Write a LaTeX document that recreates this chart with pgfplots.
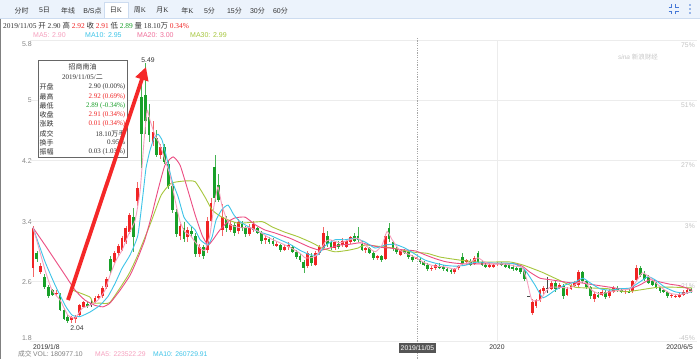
\documentclass[border=0pt]{standalone}
\usepackage{pgfplots}
\pgfplotsset{compat=1.18}
\usepackage{pgfplotstable}
\usepackage{fontspec}
\setmainfont{Liberation Sans}
\newfontfamily\cjk{Noto Sans CJK SC}
\newfontfamily\sun{Liberation Serif}
\usetikzlibrary{arrows.meta}
\definecolor{upc}{RGB}{240,36,36}
\definecolor{dnc}{RGB}{24,160,40}
\definecolor{flc}{RGB}{70,70,70}
\definecolor{ma5}{RGB}{246,160,190}
\definecolor{ma10}{RGB}{62,196,232}
\definecolor{ma20}{RGB}{236,76,130}
\definecolor{ma30}{RGB}{166,198,60}
\definecolor{tabbg}{RGB}{236,243,252}
\definecolor{tabline}{RGB}{205,220,240}
\definecolor{tickc}{RGB}{135,135,135}
\definecolor{pctc}{RGB}{195,195,195}
\definecolor{gridc}{RGB}{236,236,236}
\definecolor{txt}{RGB}{50,50,50}
\definecolor{arrowc}{RGB}{245,40,40}
\definecolor{iconc}{RGB}{70,120,215}
\definecolor{hlbox}{RGB}{85,85,85}
\newcommand\fs[1]{\fontsize{#1bp}{#1bp}\selectfont}

\pgfplotstableread{
k o h l c
0 2.78 3.33 2.66 3.30
2 2.72 2.84 2.70 2.80
6 2.44 2.48 2.41 2.45
10 2.08 2.14 2.04 2.12
11 2.10 2.15 2.04 2.13
12 2.15 2.30 2.13 2.28
13 2.26 2.34 2.24 2.32
16 2.32 2.40 2.31 2.38
17 2.38 2.43 2.35 2.40
18 2.40 2.53 2.38 2.51
19 2.52 2.66 2.50 2.63
21 2.86 3.00 2.84 2.98
22 2.97 3.10 2.94 3.07
23 3.02 3.20 3.00 3.17
24 3.12 3.33 3.10 3.30
25 3.25 3.50 3.22 3.48
27 3.66 3.92 3.60 3.84
31 4.45 4.72 4.40 4.58
33 4.28 4.42 4.22 4.38
38 3.20 3.36 3.15 3.33
40 3.18 3.32 3.12 3.28
43 2.96 3.10 2.92 3.05
45 3.02 3.45 2.98 3.40
46 3.40 3.70 3.38 3.64
49 3.28 3.62 3.20 3.45
51 3.28 3.40 3.25 3.36
53 3.26 3.42 3.22 3.38
56 3.22 3.36 3.20 3.32
57 3.28 3.40 3.25 3.36
60 3.15 3.20 3.10 3.17
63 3.07 3.14 3.05 3.10
65 3.02 3.08 3.00 3.05
66 3.05 3.12 3.02 3.08
71 2.80 3.00 2.78 2.97
73 2.82 3.00 2.80 2.97
74 2.98 3.08 2.95 3.05
75 3.04 3.32 3.02 3.24
78 3.04 3.14 3.01 3.12
80 3.08 3.17 3.05 3.14
81 3.06 3.16 3.04 3.14
82 3.12 3.20 3.10 3.18
86 3.02 3.06 2.98 3.04
89 2.91 2.95 2.88 2.93
91 2.90 3.22 2.88 3.20
95 2.95 3.03 2.93 3.01
99 2.90 2.92 2.89 2.91
103 2.76 2.80 2.73 2.78
104 2.77 2.83 2.75 2.81
109 2.72 2.78 2.70 2.76
110 2.77 2.82 2.75 2.80
112 2.85 2.90 2.82 2.88
114 2.83 2.93 2.81 2.91
118 2.79 2.84 2.77 2.82
119 2.79 2.84 2.77 2.82
120 2.83 2.86 2.80 2.84
129 2.18 2.36 2.15 2.33
130 2.27 2.37 2.24 2.35
131 2.35 2.50 2.33 2.48
132 2.47 2.54 2.43 2.51
134 2.49 2.60 2.48 2.57
136 2.51 2.58 2.49 2.55
138 2.42 2.52 2.40 2.50
139 2.50 2.56 2.48 2.54
140 2.54 2.60 2.52 2.58
141 2.55 2.75 2.52 2.72
145 2.37 2.46 2.33 2.43
147 2.42 2.48 2.40 2.46
149 2.40 2.49 2.38 2.47
150 2.46 2.53 2.44 2.51
153 2.46 2.49 2.43 2.47
155 2.47 2.62 2.45 2.60
156 2.62 2.82 2.60 2.78
165 2.41 2.44 2.38 2.42
166 2.40 2.43 2.38 2.41
167 2.40 2.44 2.38 2.42
168 2.42 2.48 2.40 2.46
169 2.44 2.50 2.43 2.48
}\upT

\pgfplotstableread{
k o h l c
1 2.97 3.00 2.85 2.90
3 2.66 2.70 2.50 2.52
4 2.52 2.55 2.38 2.40
5 2.48 2.50 2.40 2.42
7 2.42 2.45 2.20 2.22
8 2.22 2.25 2.08 2.10
9 2.12 2.16 2.05 2.07
14 2.30 2.33 2.24 2.27
20 2.90 2.94 2.70 2.73
26 3.45 3.57 2.99 3.18
28 5.05 5.20 4.10 4.55
29 5.07 5.49 4.55 4.72
30 4.78 4.95 4.45 4.54
32 4.50 4.60 4.25 4.28
34 4.38 4.42 4.15 4.18
35 4.15 4.20 3.82 3.86
36 3.86 3.90 3.50 3.54
37 3.52 3.56 3.18 3.22
39 3.30 3.38 3.12 3.16
41 3.27 3.32 3.18 3.22
42 3.20 3.24 2.92 2.96
44 3.05 3.08 2.90 2.94
47 4.12 4.27 3.65 3.70
48 3.88 4.02 3.65 3.68
50 3.42 3.46 3.25 3.30
52 3.34 3.38 3.20 3.24
54 3.36 3.40 3.26 3.30
55 3.30 3.33 3.18 3.22
58 3.30 3.32 3.22 3.24
59 3.24 3.26 3.10 3.13
61 3.16 3.19 3.10 3.12
62 3.13 3.17 3.07 3.10
64 3.08 3.10 2.99 3.01
67 3.06 3.08 2.97 2.99
68 2.99 3.02 2.90 2.92
69 2.93 2.96 2.86 2.88
70 2.86 2.88 2.71 2.77
72 2.94 2.98 2.80 2.84
76 3.20 3.26 3.06 3.10
77 3.12 3.15 3.02 3.05
79 3.10 3.14 3.03 3.06
83 3.20 3.24 3.12 3.14
84 3.20 3.32 3.12 3.15
85 3.10 3.13 3.00 3.02
87 3.04 3.06 2.96 2.98
88 2.98 3.00 2.88 2.91
90 2.93 2.95 2.86 2.88
92 3.30 3.37 3.12 3.16
93 3.12 3.14 3.00 3.03
94 3.03 3.06 2.96 2.99
96 3.00 3.03 2.96 2.98
97 2.99 3.01 2.90 2.92
98 2.92 2.95 2.86 2.88
100 2.90 2.91 2.83 2.85
101 2.85 2.87 2.80 2.82
102 2.82 2.84 2.74 2.76
105 2.80 2.84 2.76 2.78
106 2.79 2.82 2.74 2.76
107 2.76 2.79 2.72 2.74
108 2.75 2.77 2.70 2.72
111 2.92 2.98 2.80 2.83
113 2.87 2.89 2.80 2.82
115 2.97 3.00 2.84 2.86
116 2.86 2.88 2.80 2.82
117 2.82 2.84 2.77 2.79
121 2.84 2.86 2.80 2.82
122 2.82 2.84 2.77 2.79
123 2.82 2.83 2.76 2.78
124 2.79 2.81 2.74 2.76
125 2.77 2.80 2.73 2.75
126 2.77 2.78 2.70 2.72
127 2.74 2.76 2.60 2.63
135 2.57 2.60 2.46 2.49
137 2.53 2.56 2.37 2.40
142 2.72 2.74 2.58 2.60
143 2.60 2.62 2.50 2.52
144 2.52 2.54 2.37 2.40
146 2.42 2.46 2.38 2.40
148 2.46 2.48 2.36 2.39
151 2.51 2.53 2.46 2.48
152 2.48 2.50 2.44 2.46
154 2.47 2.50 2.44 2.45
157 2.78 2.80 2.66 2.68
158 2.70 2.73 2.60 2.63
159 2.66 2.68 2.56 2.58
160 2.60 2.62 2.53 2.55
161 2.57 2.59 2.50 2.52
162 2.52 2.54 2.45 2.47
163 2.48 2.50 2.44 2.46
164 2.46 2.47 2.38 2.40
170 2.49 2.51 2.45 2.47
}\dnT

\pgfplotstableread{
k o h l c
15 2.295 2.35 2.26 2.305
128 2.395 2.41 2.39 2.405
133 2.505 2.66 2.44 2.515
}\flT

\pgfplotsset{
  wick/.style={draw=none, no markers, forget plot,
    error bars/.cd, y dir=both, y explicit, error mark=none,
    error bar style={draw=#1, line width=0.7bp}},
  body/.style={draw=none, no markers, forget plot,
    error bars/.cd, y dir=both, y explicit, error mark=none,
    error bar style={draw=#1, line width=2.8bp}},
}

\begin{document}
\begin{tikzpicture}
\path[use as bounding box] (0,0) rectangle (700bp,-359bp);
\begin{scope}[x=1bp,y=-1bp]
\fill[white] (0,0) rectangle (700,359);
\fill[tabbg] (0,0) rectangle (700,18);
\draw[tabline, line width=0.6bp] (0,18) -- (700,18);
\fill[white] (104,2.5) rectangle (128,18.4);
\draw[tabline, line width=0.6bp] (104,18) -- (104,2.5) -- (128,2.5) -- (128,18);
\begin{scope}[every node/.style={inner sep=0, text=txt}]
\node at (21.5,10.5) {\cjk\fs{7}分时};
\node at (44.5,10.5) {\fs{7}5{\cjk 日}};
\node at (68,10.5) {\cjk\fs{7}年线};
\node at (92.5,10.5) {\fs{7}B/S{\cjk 点}};
\node at (116,10.5) {\fs{7}{\cjk 日}{\sun K}};
\node at (140,10.5) {\fs{7}{\cjk 周}{\sun K}};
\node at (162.5,10.5) {\fs{7}{\cjk 月}{\sun K}};
\node at (187.5,10.5) {\fs{7}{\cjk 年}{\sun K}};
\node at (209.5,10.5) {\fs{7}5{\cjk 分}};
\node at (234.5,10.5) {\fs{7}15{\cjk 分}};
\node at (257.5,10.5) {\fs{7}30{\cjk 分}};
\node at (280.5,10.5) {\fs{7}60{\cjk 分}};
\end{scope}
% right icons
\begin{scope}[draw=iconc, line width=0.9bp]
\draw (668.5,7) -- (671.5,7) -- (671.5,4);
\draw (675.5,4) -- (675.5,7) -- (678.5,7);
\draw (668.5,11) -- (671.5,11) -- (671.5,14);
\draw (675.5,14) -- (675.5,11) -- (678.5,11);
\end{scope}
\fill[iconc] (690,5) circle (0.9) (690,9) circle (0.9) (690,13) circle (0.9);
% info line
\node[anchor=west, inner sep=0, text=txt] at (3,26) {\fs{7.4}\sun 2019/11/05 {\cjk 开} 2.90 {\cjk 高} \textcolor{upc}{2.92} {\cjk 收} \textcolor{upc}{2.91} {\cjk 低} \textcolor{dnc}{2.89} {\cjk 量} 18.10{\cjk 万} \textcolor{upc}{0.34\%}};
% MA legend
\node[anchor=west, inner sep=0, text=ma5] at (33,35) {\fs{7}MA5: 2.90};
\node[anchor=west, inner sep=0, text=ma10] at (85,35) {\fs{7}MA10: 2.95};
\node[anchor=west, inner sep=0, text=ma20!80] at (137,35) {\fs{7}MA20: 3.00};
\node[anchor=west, inner sep=0, text=ma30] at (190,35) {\fs{7}MA30: 2.99};
% y labels
\begin{scope}[every node/.style={inner sep=0, anchor=east, text=tickc}]
\node at (32,44.5) {\fs{7}5.8};
\node at (32,100) {\fs{7}5};
\node at (32,161) {\fs{7}4.2};
\node at (32,222) {\fs{7}3.4};
\node at (32,282) {\fs{7}2.6};
\node at (32,338) {\fs{7}1.8};
\end{scope}
\begin{scope}[every node/.style={inner sep=0, anchor=east, text=pctc}]
\node at (695,45) {\fs{6.8}75\%};
\node at (695,105) {\fs{6.8}51\%};
\node at (695,165) {\fs{6.8}27\%};
\node at (695,226) {\fs{6.8}3\%};
\node at (695,286) {\fs{6.8}-21\%};
\node at (695,338) {\fs{6.8}-45\%};
\end{scope}
\node[inner sep=0, text=gray!45] at (638,57) {\fs{6.5}\itshape sina {\cjk 新浪财经}};
\end{scope}

\begin{axis}[
  at={(30bp,-341.5bp)}, anchor=south west,
  scale only axis, width=667bp, height=301.5bp,
  xmin=-0.775, xmax=171.58, ymin=1.8, ymax=5.8,
  axis line style={draw=none}, tick style={draw=none},
  xtick=\empty, ytick={1.8,2.6,3.4,4.2,5,5.8}, yticklabels={},
  ymajorgrids, grid style={draw=gridc, line width=0.6bp},
]
\draw[gridc, line width=0.6bp] (axis cs:119.9,1.8) -- (axis cs:119.9,5.8);
% wicks
\addplot[wick=upc!70] table[x=k, y expr={(\thisrow{h}+\thisrow{l})/2}, y error expr={(\thisrow{h}-\thisrow{l})/2}] {\upT};
\addplot[wick=dnc!80] table[x=k, y expr={(\thisrow{h}+\thisrow{l})/2}, y error expr={(\thisrow{h}-\thisrow{l})/2}] {\dnT};
\addplot[wick=flc] table[x=k, y expr={(\thisrow{h}+\thisrow{l})/2}, y error expr={(\thisrow{h}-\thisrow{l})/2}] {\flT};
% bodies
\addplot[body=upc] table[x=k, y expr={(\thisrow{o}+\thisrow{c})/2}, y error expr={abs(\thisrow{c}-\thisrow{o})/2}] {\upT};
\addplot[body=dnc] table[x=k, y expr={(\thisrow{o}+\thisrow{c})/2}, y error expr={abs(\thisrow{c}-\thisrow{o})/2}] {\dnT};
\addplot[body=flc] table[x=k, y expr={(\thisrow{o}+\thisrow{c})/2}, y error expr={abs(\thisrow{c}-\thisrow{o})/2}] {\flT};
% MA30
\addplot[ma30, line width=0.9bp, smooth, tension=0.3] coordinates {
(10.3,2.48) (14.7,2.39) (15.5,2.31) (17.3,2.31) (19.9,2.32) (24.6,2.68) (27.1,2.95) (30.5,3.385) (33.1,3.74) (35.7,3.90) (39.3,3.93) (41.9,3.92) (44.4,3.72) (46.3,3.545) (48.8,3.45) (53.0,3.37) (59.2,3.39) (61.8,3.32) (65.1,3.25) (68.5,3.19) (72.1,3.11) (74.7,3.04) (78.0,2.99) (81.4,3.01) (84.0,3.04) (85.8,3.08) (93.0,3.04) (97.4,2.99) (101.8,2.97) (105.2,2.92) (110.3,2.88) (114.7,2.855) (118.9,2.855) (123.3,2.855) (126.6,2.815) (131.5,2.72) (135.7,2.62) (140.1,2.52) (144.4,2.51) (148.6,2.50) (153.0,2.46) (156.3,2.48) (161.5,2.52) (165.9,2.52) (170.3,2.51)};
% MA20
\addplot[ma20, line width=0.9bp, smooth, tension=0.3] coordinates {
(0,3.31) (3.1,3.08) (5.7,2.88) (8.3,2.68) (10.9,2.48) (13.4,2.35) (16.0,2.28) (18.1,2.26) (19.9,2.31) (22.5,2.48) (25.1,2.68) (27.1,2.91) (28.9,3.15) (30.7,3.48) (32.3,3.81) (34.1,4.14) (36.2,4.25) (38.0,4.14) (40.0,3.81) (41.9,3.48) (43.7,3.21) (45.2,3.08) (46.5,3.15) (48.3,3.28) (50.4,3.39) (52.2,3.44) (54.8,3.45) (57.4,3.35) (59.9,3.28) (62.5,3.24) (66.4,3.17) (69.0,3.11) (71.6,3.05) (74.2,3.01) (76.7,3.04) (79.3,3.08) (81.9,3.09) (84.5,3.11) (87.1,3.08) (89.7,3.05) (92.3,3.04) (94.8,3.02) (97.4,3.01) (99.0,3.00) (101.3,2.95) (103.9,2.90) (106.5,2.86) (109.0,2.84) (111.6,2.83) (114.2,2.83) (116.8,2.83) (119.4,2.83) (122.0,2.83) (124.5,2.83) (126.4,2.80) (128.4,2.72) (131.0,2.64) (133.6,2.62) (136.2,2.60) (138.8,2.58) (141.3,2.58) (143.9,2.56) (146.5,2.54) (149.1,2.52) (151.7,2.50) (154.3,2.50) (156.8,2.55) (159.4,2.62) (162.0,2.59) (164.6,2.56) (167.2,2.54) (170.3,2.48)};
% MA10
\addplot[ma10, line width=0.9bp, smooth, tension=0.3] coordinates {
(0,3.31) (3.1,2.86) (5.7,2.55) (8.3,2.28) (10.1,2.15) (12.1,2.13) (14.7,2.19) (17.3,2.28) (19.4,2.40) (21.2,2.57) (23.0,2.77) (25.1,2.95) (27.1,3.21) (28.4,3.74) (29.2,4.10) (30.2,4.33) (31.3,4.50) (32.3,4.55) (33.3,4.48) (34.4,4.27) (35.9,3.94) (37.5,3.72) (39.0,3.45) (40.5,3.35) (41.9,3.28) (43.2,3.15) (45.2,3.08) (46.3,3.19) (47.3,3.41) (48.8,3.55) (50.4,3.61) (51.9,3.48) (53.5,3.39) (56.1,3.31) (58.7,3.25) (61.2,3.21) (63.8,3.15) (66.4,3.09) (69.0,3.01) (71.6,2.95) (73.6,2.95) (75.5,3.07) (78.0,3.15) (80.6,3.15) (83.2,3.17) (85.8,3.12) (88.4,3.04) (91.0,3.08) (93.5,3.09) (96.1,3.04) (99.0,2.95) (101.3,2.88) (103.9,2.84) (106.5,2.81) (109.0,2.80) (111.6,2.81) (114.2,2.85) (116.8,2.85) (119.4,2.84) (122.0,2.84) (124.5,2.83) (127.1,2.75) (129.7,2.55) (131.8,2.38) (134.9,2.48) (137.5,2.55) (140.1,2.59) (142.1,2.64) (143.9,2.58) (146.5,2.50) (149.1,2.48) (151.7,2.50) (154.3,2.51) (156.8,2.59) (158.9,2.66) (160.7,2.62) (163.3,2.52) (165.9,2.46) (168.5,2.44) (170.3,2.46)};
% MA5
\addplot[ma5, line width=0.9bp, smooth, tension=0.3] coordinates {
(0,3.31) (1.3,3.08) (3.1,2.75) (4.9,2.48) (7.0,2.35) (9.0,2.15) (10.9,2.11) (12.7,2.24) (14.7,2.28) (16.8,2.35) (18.6,2.48) (19.9,2.68) (21.5,2.88) (23.0,3.01) (24.6,3.21) (26.4,3.41) (27.7,3.81) (28.7,4.47) (29.5,4.87) (30.2,4.74) (31.5,4.54) (32.8,4.41) (34.1,4.21) (35.4,4.01) (36.7,3.68) (38.0,3.39) (39.3,3.25) (40.6,3.21) (41.9,3.12) (43.2,3.04) (44.4,3.01) (45.7,3.21) (46.8,3.61) (47.8,3.85) (48.8,3.61) (49.9,3.44) (50.9,3.35) (53.5,3.31) (56.1,3.31) (58.7,3.25) (61.2,3.17) (63.8,3.11) (66.4,3.05) (69.0,2.97) (70.3,2.91) (71.6,2.91) (72.9,2.93) (74.2,3.01) (75.5,3.12) (76.7,3.15) (79.3,3.11) (81.9,3.15) (84.0,3.17) (85.8,3.08) (88.4,2.99) (90.2,3.08) (91.5,3.26) (92.8,3.15) (94.8,3.01) (97.4,2.95) (99.0,2.91) (101.3,2.84) (103.9,2.80) (106.5,2.79) (109.0,2.76) (110.6,2.82) (112.9,2.85) (115.0,2.91) (116.8,2.85) (119.4,2.83) (122.0,2.83) (124.5,2.80) (126.4,2.78) (127.6,2.62) (128.9,2.35) (131.0,2.35) (132.3,2.45) (133.6,2.52) (136.2,2.52) (138.8,2.51) (140.8,2.58) (142.6,2.59) (144.4,2.48) (146.5,2.43) (149.1,2.46) (151.7,2.48) (154.3,2.50) (155.8,2.59) (157.4,2.71) (158.9,2.67) (160.7,2.59) (162.5,2.51) (164.6,2.44) (167.2,2.42) (169.8,2.46) (170.5,2.47)};
\end{axis}

\begin{scope}[x=1bp,y=-1bp]
% left border
\draw[gray, line width=1.2bp] (0.6,18.5) -- (0.6,359);
% crosshair
\draw[gray!70, line width=0.8bp, dash pattern=on 1.2bp off 1.2bp] (417,38) -- (417,343);
\draw[gray!70, line width=0.8bp, dash pattern=on 1.2bp off 1.2bp] (417,352.5) -- (417,359);
% x labels
\node[anchor=west, inner sep=0, text=txt] at (33,347.5) {\fs{6.8}2019/1/8};
\fill[hlbox] (399,343) rectangle (436,352.5);
\node[inner sep=0, text=white] at (417.5,347.8) {\fs{6.8}2019/11/05};
\node[inner sep=0, text=txt] at (497,347.5) {\fs{6.8}2020};
\node[anchor=east, inner sep=0, text=txt] at (693,347.5) {\fs{6.8}2020/6/5};
% bottom volume line
\node[anchor=west, inner sep=0, text=gray] at (18,354) {\fs{6.8}{\cjk 成交}};
\node[anchor=west, inner sep=0, text=gray] at (33,354) {\fs{6.8}VOL: 180977.10};
\node[anchor=west, inner sep=0, text=ma5] at (95,354) {\fs{6.8}MA5: 223522.29};
\node[anchor=west, inner sep=0, text=ma10] at (153,354) {\fs{6.8}MA10: 260729.91};
% annotations
\node[inner sep=0, text=txt] at (148,60) {\fs{6.8}5.49};
\node[inner sep=0, text=txt] at (77,328) {\fs{6.8}2.04};
% tooltip
\draw[gray!80!black, line width=0.8bp, fill=white] (38,60) rectangle (127,157);
\node[inner sep=0, text=txt] at (82.5,66.5) {\cjk\fs{7}招商南油};
\node[inner sep=0, text=txt] at (82.5,77) {\fs{7}\sun 2019/11/05/{\cjk 二}};
\begin{scope}[every node/.style={inner sep=0, anchor=west, text=txt}]
\node at (39.5,87) {\cjk\fs{7}开盘};
\node at (39.5,96.5) {\cjk\fs{7}最高};
\node at (39.5,106) {\cjk\fs{7}最低};
\node at (39.5,115) {\cjk\fs{7}收盘};
\node at (39.5,124) {\cjk\fs{7}涨跌};
\node at (39.5,133.5) {\cjk\fs{7}成交};
\node at (39.5,142.5) {\cjk\fs{7}换手};
\node at (39.5,151.5) {\cjk\fs{7}振幅};
\end{scope}
\begin{scope}[every node/.style={inner sep=0, anchor=east}]
\node[text=txt] at (125.5,87) {\sun\fs{7}2.90 (0.00\%)};
\node[text=upc] at (125.5,96.5) {\sun\fs{7}2.92 (0.69\%)};
\node[text=dnc] at (125.5,106) {\sun\fs{7}2.89 (-0.34\%)};
\node[text=upc] at (125.5,115) {\sun\fs{7}2.91 (0.34\%)};
\node[text=upc] at (125.5,124) {\sun\fs{7}0.01 (0.34\%)};
\node[text=txt] at (125.5,133.5) {\sun\fs{7}18.10{\cjk 万手}};
\node[text=txt] at (125.5,142.5) {\sun\fs{7}0.95\%};
\node[text=txt] at (125.5,151.5) {\sun\fs{7}0.03 (1.03\%)};
\end{scope}
% arrow
\draw[arrowc, line width=3.8bp, -{Triangle[length=13bp,width=13bp]}] (68,300) -- (146,67);
\end{scope}
\end{tikzpicture}
\end{document}
